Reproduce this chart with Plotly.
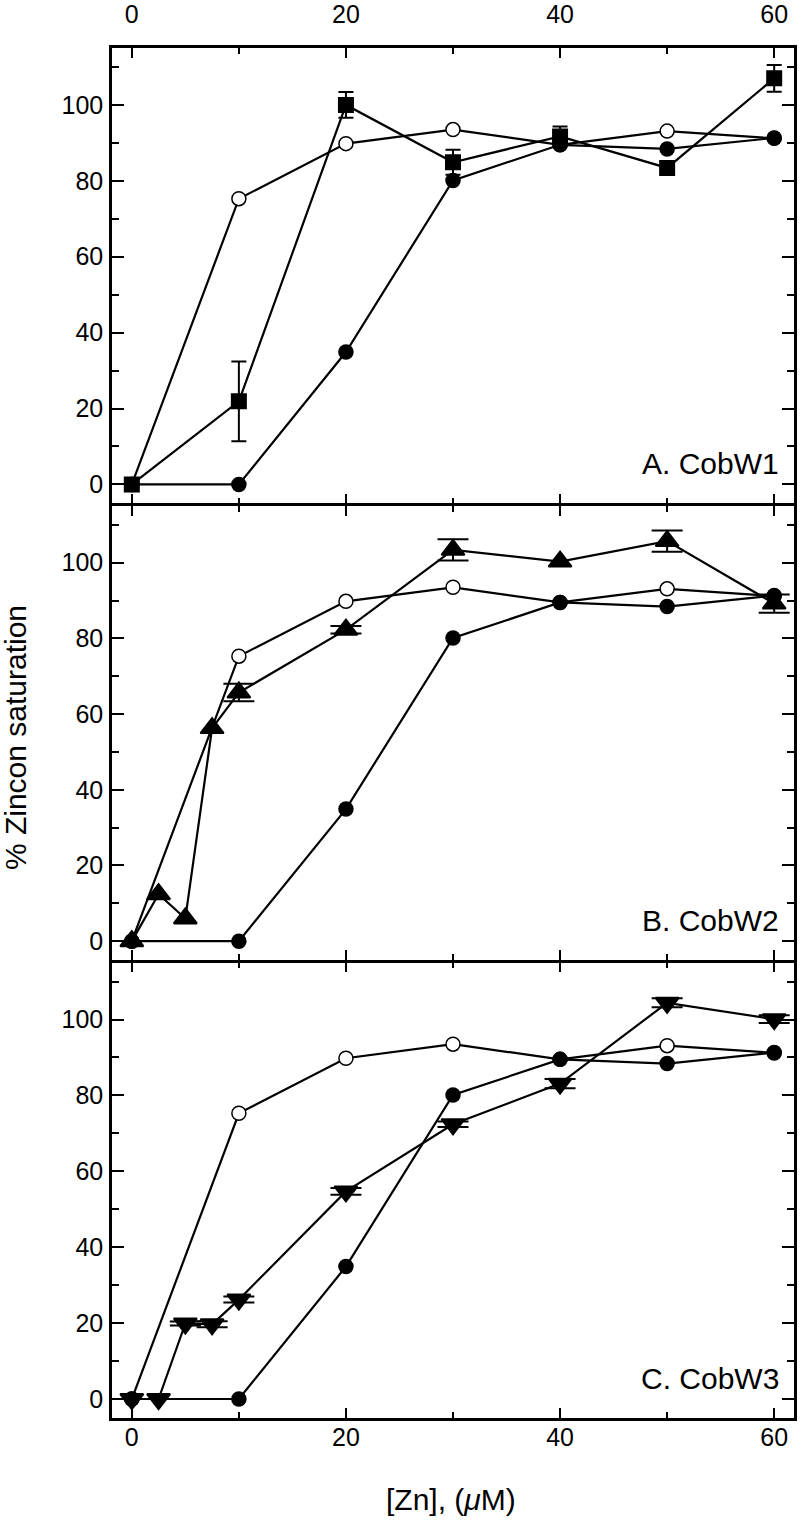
import plotly.graph_objects as go

# ---------------- data ----------------
zn_ref = [0, 10, 20, 30, 40, 50, 60]
open_circle = [0, 75.3, 89.8, 93.5, 89.5, 93.1, 91.2]
filled_circle = [0, 0, 34.9, 80.1, 89.5, 88.4, 91.3]

zn_w1 = [0, 10, 20, 30, 40, 50, 60]
cobw1 = [0, 21.9, 100.0, 84.9, 91.7, 83.4, 107.0]
cobw1_err = [0, 10.5, 3.4, 3.3, 2.6, 0, 3.5]

zn_w2 = [0, 2.5, 5, 7.5, 10, 20, 30, 40, 50, 60]
cobw2 = [0, 12.4, 6.0, 56.3, 65.7, 82.3, 103.4, 100.3, 105.7, 89.2]
cobw2_err = [0, 0, 0, 0, 2.3, 1.0, 2.8, 0, 2.8, 2.4]

zn_w3 = [0, 2.5, 5, 7.5, 10, 20, 30, 40, 50, 60]
cobw3 = [0, 0, 19.9, 19.7, 26.2, 54.7, 72.4, 83.1, 104.4, 100.1]
cobw3_err = [0, 0, 0.5, 0.8, 0.8, 0.9, 0.7, 1.2, 1.2, 1.0]

panel_labels = ["A. CobW1", "B. CobW2", "C. CobW3"]
x_ticks = [0, 20, 40, 60]
y_ticks = [0, 20, 40, 60, 80, 100]

FONT = "Liberation Sans, Arial, Helvetica, sans-serif"
BLACK = "black"

W, H = 800, 1520
ML, MR, MT, MB = 112, 6, 48, 102
PW, PH = W - ML - MR, H - MT - MB

fig = go.Figure()

panels = [
    (zn_w1, cobw1, cobw1_err, "square", 16, 0, 7.5),
    (zn_w2, cobw2, cobw2_err, "triangle-up", 20, 2, 15.5),
    (zn_w3, cobw3, cobw3_err, "triangle-down", 20, 2, 15.5),
]

for i, (xs, ys, errs, sym, msize, mlw, capw) in enumerate(panels):
    xa = "x" if i == 0 else f"x{i+1}"
    ya = "y" if i == 0 else f"y{i+1}"
    fig.add_trace(go.Scatter(
        x=zn_ref, y=open_circle, mode="lines+markers", xaxis=xa, yaxis=ya,
        line=dict(color=BLACK, width=2.2),
        marker=dict(symbol="circle", size=14, color="white", line=dict(color=BLACK, width=1.5)),
        showlegend=False))
    fig.add_trace(go.Scatter(
        x=zn_ref, y=filled_circle, mode="lines+markers", xaxis=xa, yaxis=ya,
        line=dict(color=BLACK, width=2.2),
        marker=dict(symbol="circle", size=15.5, color=BLACK),
        showlegend=False))
    ex = [x for x, e in zip(xs, errs) if e > 0]
    ey = [y for y, e in zip(ys, errs) if e > 0]
    ee = [e for e in errs if e > 0]
    fig.add_trace(go.Scatter(
        x=ex, y=ey, mode="markers", xaxis=xa, yaxis=ya,
        marker=dict(size=1, color="rgba(0,0,0,0)"),
        error_y=dict(type="data", array=ee, visible=True, color=BLACK,
                     thickness=2, width=capw),
        showlegend=False, hoverinfo="skip"))
    fig.add_trace(go.Scatter(
        x=xs, y=ys, mode="lines+markers", xaxis=xa, yaxis=ya,
        line=dict(color=BLACK, width=2.2),
        marker=dict(symbol=sym, size=msize, color=BLACK,
                    line=dict(color=BLACK, width=mlw)),
        showlegend=False))

tickfont = dict(family=FONT, size=25, color=BLACK)

def xaxis_cfg(side, show, standoff, anchor):
    return dict(
        range=[-1.85, 61.85], anchor=anchor, side=side, showticklabels=show,
        automargin=False,
        showline=True, linewidth=2.5, linecolor=BLACK, mirror="ticks",
        ticks="inside", ticklen=10, tickwidth=2, tickcolor=BLACK,
        tickmode="array", tickvals=x_ticks,
        minor=dict(ticks="inside", ticklen=6, tickwidth=2, tickcolor=BLACK,
                   dtick=10, tick0=0),
        showgrid=False, zeroline=False, tickfont=tickfont,
        ticklabelstandoff=standoff,
    )

def yaxis_cfg(domain, anchor):
    return dict(
        range=[-5, 115], domain=domain, anchor=anchor, automargin=False,
        showline=True, linewidth=2.5, linecolor=BLACK, mirror="ticks",
        ticks="inside", ticklen=12, tickwidth=2, tickcolor=BLACK,
        tickmode="array", tickvals=y_ticks,
        minor=dict(ticks="inside", ticklen=7, tickwidth=2, tickcolor=BLACK,
                   dtick=10, tick0=0),
        showgrid=False, zeroline=False, tickfont=tickfont,
        ticklabelstandoff=1,
    )

g = 2.5 / PH / 2  # half-gap so adjoining border lines coincide

fig.update_layout(
    width=W, height=H,
    margin=dict(l=ML, r=MR, t=MT, b=MB, autoexpand=False),
    paper_bgcolor="white", plot_bgcolor="white",
    font=dict(family=FONT, color=BLACK),
    hovermode=False,
    xaxis=xaxis_cfg("top", True, 12, "y"),
    xaxis2=xaxis_cfg("bottom", False, 5, "y2"),
    xaxis3=xaxis_cfg("bottom", True, -5, "y3"),
    yaxis=yaxis_cfg([2/3 + g, 1], "x"),
    yaxis2=yaxis_cfg([1/3 + g, 2/3 - g], "x2"),
    yaxis3=yaxis_cfg([0, 1/3 - g], "x3"),
)

annotations = []
for i, lab in enumerate(panel_labels):
    xa = "x" if i == 0 else f"x{i+1}"
    ya = "y" if i == 0 else f"y{i+1}"
    annotations.append(dict(
        text=lab, x=60.6, y=5.5, xref=xa, yref=ya, xanchor="right", yanchor="middle",
        showarrow=False, font=dict(family=FONT, size=30, color=BLACK)))

annotations.append(dict(
    text="% Zincon saturation", x=(15 - ML) / PW, y=0.497, xref="paper", yref="paper",
    xanchor="center", yanchor="middle", textangle=-90, showarrow=False,
    font=dict(family=FONT, size=30, color=BLACK)))
annotations.append(dict(
    text="[Zn], (<i>μ</i>M)", x=(451 - ML) / PW, y=(PH - (1499 - MT)) / PH,
    xref="paper", yref="paper",
    xanchor="center", yanchor="middle", showarrow=False,
    font=dict(family=FONT, size=30, color=BLACK)))
fig.update_layout(annotations=annotations)

fig.write_html(
    "out.html",
    config={"displayModeBar": False},
    post_script="document.body.style.margin='0';document.body.style.padding='0';",
)
